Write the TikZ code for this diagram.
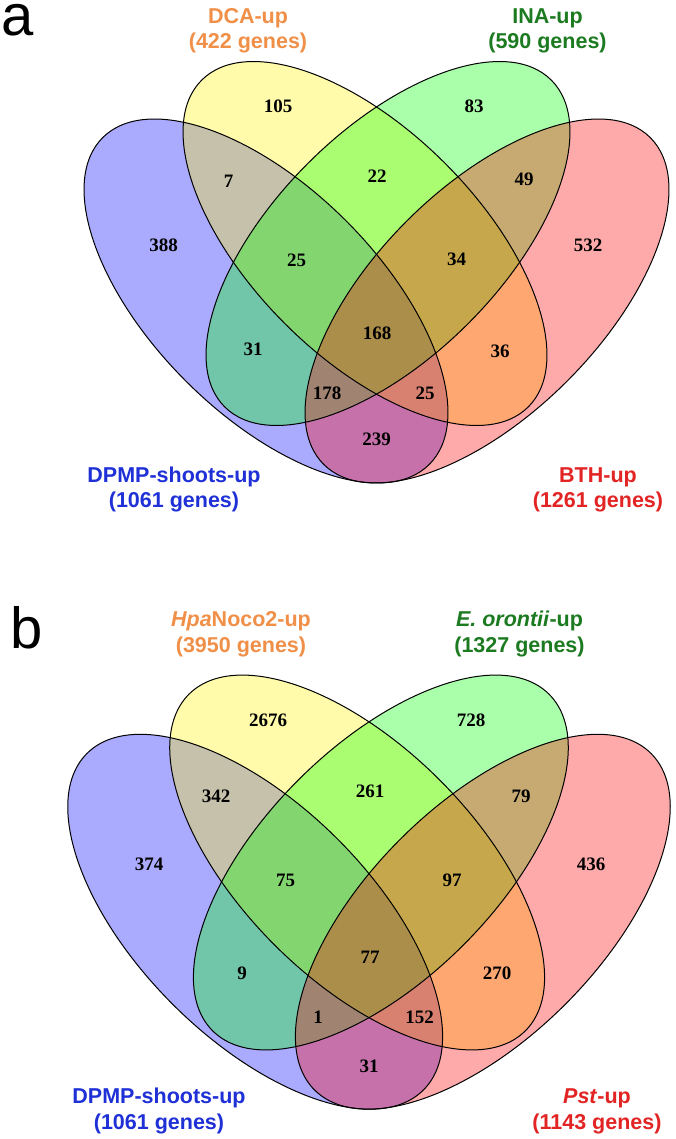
\documentclass[tikz,border=0pt]{standalone}
\usepackage{fontspec}
\setmainfont{Liberation Sans}
\newfontfamily\numfont{Liberation Serif}
\usetikzlibrary{positioning}

\definecolor{dcaorange}{RGB}{240,143,72}
\definecolor{inagreen}{RGB}{28,122,32}
\definecolor{dpmpblue}{RGB}{30,48,214}
\definecolor{bthred}{RGB}{226,36,36}

\begin{document}
\begin{tikzpicture}[x=1pt, y=-1pt,
  setfill/.style={fill opacity=0.333},
  setline/.style={draw=black, line width=1pt},
  num/.style={inner sep=0pt, font=\numfont\bfseries\fontsize{19}{21}\selectfont},
  setname/.style={inner sep=0pt, anchor=base, font=\bfseries\fontsize{21.5}{25}\selectfont},
  panel/.style={inner sep=0pt, anchor=base west, font=\fontsize{58}{58}\selectfont}]
\useasboundingbox (0,0) rectangle (675,1139);

% Venn a: blue, yellow, green, red
\begin{scope}[shift={(376.5,243.5)}]
\foreach \cx/\cy/\ang/\col in {-110.5/57.5/-45/blue, -11.5/0/-45/yellow, 11.5/0/45/green, 110.5/57.5/45/red}
  \fill[\col, setfill, rotate around={\ang:(\cx,\cy)}] (\cx,\cy) ellipse (231pt and 113.3pt);
\foreach \cx/\cy/\ang in {-110.5/57.5/-45, -11.5/0/-45, 11.5/0/45, 110.5/57.5/45}
  \draw[setline, rotate around={\ang:(\cx,\cy)}] (\cx,\cy) ellipse (231pt and 113.3pt);
\end{scope}

% Venn b
\begin{scope}[shift={(369,862.5)}, scale=1.03]
\foreach \cx/\cy/\ang/\col in {-110.5/57.5/-45/blue, -11.5/0/-45/yellow, 11.5/0/45/green, 110.5/57.5/45/red}
  \fill[\col, setfill, rotate around={\ang:(\cx,\cy)}] (\cx,\cy) ellipse (231pt and 113.3pt);
\foreach \cx/\cy/\ang in {-110.5/57.5/-45, -11.5/0/-45, 11.5/0/45, 110.5/57.5/45}
  \draw[setline, rotate around={\ang:(\cx,\cy)}] (\cx,\cy) ellipse (231pt and 113.3pt);
\end{scope}

% Counts a
\foreach \n/\x/\y/\v in {B/163.5/245/388, Y/278/106/105, G/474/106/83, R/588/245/532,
    BY/228.5/181/7, YG/377/176/22, GR/524/179/49, BYG/296.5/260/25, YGR/456.5/259/34,
    BYGR/377/333/168, BG/253/349/31, YR/500/351/36, BGR/327/393/178, BYR/425/393/25,
    BR/376.5/439/239}
  \node[num] (a\n) at (\x,\y) {\v};

% Counts b
\foreach \n/\x/\y/\v in {B/149/864/374, Y/268/720/2676, G/471/720/728, R/591/864/436,
    BY/216/796/342, YG/370/791/261, GR/521/796/79, BYG/285.5/880/75, YGR/452/880/97,
    BYGR/370/957/77, BG/242/973/9, YR/497/973/270, BGR/318/1017/1, BYR/419.5/1017/152,
    BR/369/1066/31}
  \node[num] (b\n) at (\x,\y) {\v};

% Labels a
\node[panel] (apanel) at (1,36) {a};
\node[setname, dcaorange] (aYname) at (248,23.5) {DCA-up};
\node[setname, dcaorange] (aYsize) at (248,49) {(422 genes)};
\node[setname, inagreen] (aGname) at (547.5,23.5) {INA-up};
\node[setname, inagreen] (aGsize) at (547.5,49) {(590 genes)};
\node[setname, dpmpblue] (aBname) at (174,482) {DPMP-shoots-up};
\node[setname, dpmpblue] (aBsize) at (174,507.5) {(1061 genes)};
\node[setname, bthred] (aRname) at (598,482) {BTH-up};
\node[setname, bthred] (aRsize) at (598,507.5) {(1261 genes)};

% Labels b
\node[panel] (bpanel) at (10,648) {b};
\node[setname, dcaorange] (bYname) at (241,626.5) {\textit{Hpa}Noco2-up};
\node[setname, dcaorange] (bYsize) at (241,652) {(3950 genes)};
\node[setname, inagreen] (bGname) at (519.5,626.5) {\textit{E. orontii}-up};
\node[setname, inagreen] (bGsize) at (519.5,652) {(1327 genes)};
\node[setname, dpmpblue] (bBname) at (159,1103) {DPMP-shoots-up};
\node[setname, dpmpblue] (bBsize) at (159,1129) {(1061 genes)};
\node[setname, bthred] (bRname) at (597,1103) {\textit{Pst}-up};
\node[setname, bthred] (bRsize) at (597,1129) {(1143 genes)};
\end{tikzpicture}
\end{document}
